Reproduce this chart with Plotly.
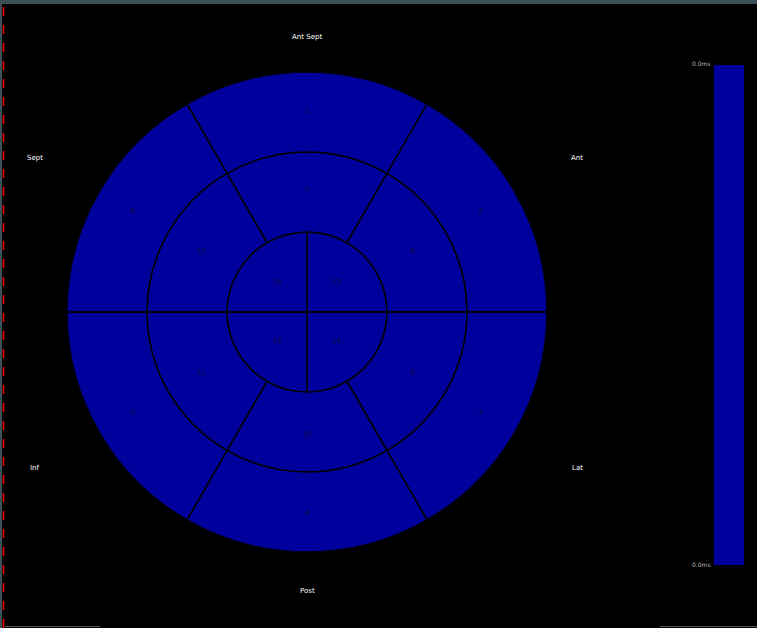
import plotly.graph_objects as go

# ---- data ----
outer_labels = ["1", "2", "3", "4", "5", "6"]
outer_theta = [0, 60, 120, 180, 240, 300]
middle_labels = ["7", "8", "9", "10", "11", "12"]
middle_theta = [0, 60, 120, 180, 240, 300]
inner_labels = ["13", "14", "15", "16"]
inner_theta = [45, 135, 225, 315]
segment_values = [0.0] * 16
direction_labels = ["Ant Sept", "Sept", "Ant", "Inf", "Lat", "Post"]
colorbar_ticks = ["0.0ms", "0.0ms"]

W, H = 757, 628
BLUE = "rgb(0,0,156)"
cx, cy, R = 307, 312, 240

fig = go.Figure()

# rings: inner (0-80), middle (80-160), outer (160-240)
fig.add_trace(go.Barpolar(
    r=[80] * 4, base=[0] * 4, theta=inner_theta, width=[90] * 4,
    marker=dict(color=BLUE, line=dict(color="black", width=1.5)),
    hoverinfo="skip", showlegend=False))
fig.add_trace(go.Barpolar(
    r=[80] * 6, base=[80] * 6, theta=middle_theta, width=[60] * 6,
    marker=dict(color=BLUE, line=dict(color="black", width=1.5)),
    hoverinfo="skip", showlegend=False))
fig.add_trace(go.Barpolar(
    r=[80] * 6, base=[160] * 6, theta=outer_theta, width=[60] * 6,
    marker=dict(color=BLUE, line=dict(color="black", width=1.5)),
    hoverinfo="skip", showlegend=False))

# horizontal line through whole circle
fig.add_trace(go.Scatterpolar(
    r=[240, 0, 240], theta=[270, 0, 90], mode="lines",
    line=dict(color="black", width=1.5), hoverinfo="skip", showlegend=False))

# segment numbers
fig.add_trace(go.Scatterpolar(
    r=[201] * 6 + [122] * 6 + [42] * 4,
    theta=outer_theta + middle_theta + inner_theta,
    text=outer_labels + middle_labels + inner_labels,
    mode="text", textfont=dict(color="#101040", size=7, family="DejaVu Sans"),
    hoverinfo="skip", showlegend=False))

fig.update_layout(
    width=W, height=H,
    margin=dict(l=0, r=0, t=0, b=0),
    paper_bgcolor="black", plot_bgcolor="black",
    polar=dict(
        domain=dict(x=[(cx - R) / W, (cx + R) / W],
                    y=[(H - cy - R) / H, (H - cy + R) / H]),
        bgcolor="black",
        hole=0,
        radialaxis=dict(range=[0, 240], visible=False, showgrid=False),
        angularaxis=dict(rotation=90, direction="clockwise", visible=False,
                         showgrid=False),
        bargap=0,
    ),
)

# direction labels
dir_pos = [(307, 37), (35, 158), (577, 158), (35, 468), (577, 468), (307, 591)]
for txt, (x, y) in zip(direction_labels, dir_pos):
    fig.add_annotation(x=x / W, y=1 - y / H, xref="paper", yref="paper",
                       xanchor="center", yanchor="middle",
                       text=txt, showarrow=False,
                       font=dict(color="white", size=7, family="DejaVu Sans"))

# color bar
fig.add_shape(type="rect", xref="paper", yref="paper",
              x0=714 / W, x1=744 / W, y0=1 - 565 / H, y1=1 - 65 / H,
              fillcolor=BLUE, line=dict(width=0), layer="below")
for txt, y in zip(colorbar_ticks, [64, 564]):
    fig.add_annotation(x=713 / W, y=1 - y / H, xref="paper", yref="paper",
                       xanchor="right", yanchor="middle",
                       text=txt, showarrow=False,
                       font=dict(color="#bbbbbb", size=6, family="DejaVu Sans"))

# window frame details
fig.add_shape(type="rect", xref="paper", yref="paper",
              x0=0, x1=1, y0=1 - 4 / H, y1=1,
              fillcolor="#3c5058", line=dict(width=0))
fig.add_shape(type="rect", xref="paper", yref="paper",
              x0=0, x1=2 / W, y0=0, y1=1,
              fillcolor="#3c5058", line=dict(width=0))
fig.add_shape(type="line", xref="paper", yref="paper",
              x0=3.5 / W, x1=3.5 / W, y0=0, y1=1 - 4 / H,
              line=dict(color="red", width=1.5, dash="dash"))
fig.add_shape(type="line", xref="paper", yref="paper",
              x0=5 / W, x1=100 / W, y0=1.5 / H, y1=1.5 / H,
              line=dict(color="#555555", width=1))
fig.add_shape(type="line", xref="paper", yref="paper",
              x0=660 / W, x1=1, y0=1.5 / H, y1=1.5 / H,
              line=dict(color="#555555", width=1))

fig.write_html(
    "out.html",
    config={"displayModeBar": False},
    post_script="document.body.style.margin='0';document.body.style.overflow='hidden';",
)
